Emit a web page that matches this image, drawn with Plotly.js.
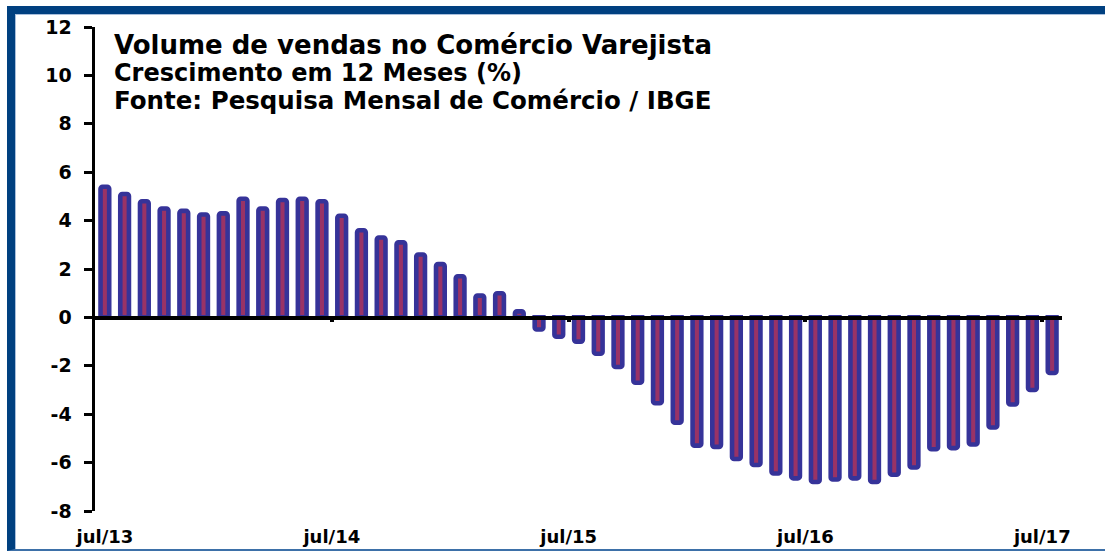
<!DOCTYPE html>
<html>
<head>
<meta charset="utf-8">
<script src="https://cdn.plot.ly/plotly-3.0.1.min.js"></script>
<style>
  html, body { margin: 0; padding: 0; background: #ffffff; }
  #wrap { position: relative; width: 1105px; height: 551px; overflow: hidden; }
  #chart { position: absolute; left: 0; top: 0; width: 1105px; height: 551px; }
  #frame { position: absolute; left: 7px; top: 6px; width: 1098px; height: 545px; box-sizing: border-box;
           border-left: 8px solid #004080; border-top: 8px solid #004080; border-bottom: 2px solid #3d70a8;
           pointer-events: none; }
  #frame-inner { position: absolute; left: 0; top: 0; right: 0; bottom: 0;
           border-left: 1px solid #a9bfdc; border-top: 1px solid #a9bfdc; }
</style>
</head>
<body>
<div id="wrap">
  <div id="chart"></div>
  <div id="frame"><div id="frame-inner"></div></div>
</div>
<script>
// Categories (months, jul/13 .. jul/17)
const months = [
  'jul/13','ago/13','set/13','out/13','nov/13','dez/13',
  'jan/14','fev/14','mar/14','abr/14','mai/14','jun/14',
  'jul/14','ago/14','set/14','out/14','nov/14','dez/14',
  'jan/15','fev/15','mar/15','abr/15','mai/15','jun/15',
  'jul/15','ago/15','set/15','out/15','nov/15','dez/15',
  'jan/16','fev/16','mar/16','abr/16','mai/16','jun/16',
  'jul/16','ago/16','set/16','out/16','nov/16','dez/16',
  'jan/17','fev/17','mar/17','abr/17','mai/17','jun/17',
  'jul/17'
];

// Growth in 12 months (%)
const growth12m = [
  5.4, 5.1, 4.8, 4.5, 4.4, 4.25,
  4.3, 4.9, 4.5, 4.85, 4.9, 4.8,
  4.2, 3.6, 3.3, 3.1, 2.6, 2.2,
  1.7, 0.9, 1.0, 0.25, -0.5, -0.8,
  -1.0, -1.5, -2.05, -2.7, -3.55, -4.35,
  -5.3, -5.35, -5.85, -6.1, -6.45, -6.65,
  -6.8, -6.7, -6.65, -6.8, -6.5, -6.2,
  -5.45, -5.4, -5.25, -4.55, -3.6, -3.0,
  -2.3
];

// Labelled months on the x axis
const tickLabels = ['jul/13', 'jul/14', 'jul/15', 'jul/16', 'jul/17'];

// Y axis tick values
const yTicks = [-8, -6, -4, -2, 0, 2, 4, 6, 8, 10, 12];

// Title lines
const titleLines = [
  'Volume de vendas no Comércio Varejista',
  'Crescimento em 12 Meses (%)',
  'Fonte: Pesquisa Mensal de Comércio / IBGE'
];

const FONT = 'DejaVu Sans, Liberation Sans, Arial, sans-serif';
const nCat = months.length;
const xRange = [-0.5, nCat - 0.5];
const yRange = [yTicks[0], yTicks[yTicks.length - 1]];
const zeroPos = (0 - yRange[0]) / (yRange[1] - yRange[0]);

// boundary just before each labelled month
const boundaryPos = tickLabels.map(function (t) { return months.indexOf(t) - 0.5; });
// label positions: at the boundaries, kept inside the axis at the ends
const labelPos = boundaryPos.map(function (b) { return Math.min(Math.max(b, 0), nCat - 1); });

const barTrace = {
  type: 'bar',
  x: months,
  y: growth12m,
  xaxis: 'x',
  yaxis: 'y',
  width: 0.44,
  marker: {
    color: '#993366',
    line: { color: '#363399', width: 4.6 },
    cornerradius: 2
  },
  hoverinfo: 'x+y',
  showlegend: false
};

// invisible helpers so the overlay axes are drawn
function helper(xs, axis) {
  return {
    type: 'scatter', mode: 'none',
    x: xs, y: xs.map(function () { return 0; }),
    xaxis: axis, yaxis: 'y',
    hoverinfo: 'skip', showlegend: false
  };
}

const annotations = titleLines.map(function (t, k) {
  return {
    text: t,
    xref: 'paper', yref: 'paper',
    x: 0.018, y: [0.962, 0.904, 0.848][k],
    xanchor: 'left', yanchor: 'middle',
    showarrow: false,
    font: { family: FONT, size: [26, 24, 24.5][k], color: '#000000', weight: 'bold' }
  };
});

const layout = {
  width: 1105,
  height: 551,
  margin: { l: 95, r: 43, t: 27, b: 40, pad: 0 },
  paper_bgcolor: '#ffffff',
  plot_bgcolor: '#ffffff',
  showlegend: false,
  xaxis: {
    type: 'category',
    categoryorder: 'array',
    categoryarray: months,
    range: xRange,
    anchor: 'free',
    position: zeroPos,
    showline: true, linecolor: '#000000', linewidth: 3.5,
    ticks: '', showticklabels: false,
    showgrid: false, zeroline: false,
    fixedrange: true
  },
  xaxis2: {
    type: 'linear',
    overlaying: 'x',
    anchor: 'y',
    side: 'bottom',
    range: xRange,
    tickmode: 'array', tickvals: labelPos, ticktext: tickLabels,
    ticks: '', showline: false, showgrid: false, zeroline: false,
    ticklabelstandoff: 13,
    tickfont: { family: FONT, size: 18, color: '#000000', weight: 'bold' },
    fixedrange: true
  },
  xaxis3: {
    type: 'linear',
    overlaying: 'x',
    anchor: 'free',
    position: zeroPos,
    side: 'bottom',
    range: xRange,
    tickmode: 'array', tickvals: boundaryPos.filter(function (b) { return b > xRange[0]; }),
    ticks: 'outside', ticklen: 4, tickwidth: 4, tickcolor: '#000000',
    showticklabels: false, showline: false, showgrid: false, zeroline: false,
    fixedrange: true
  },
  yaxis: {
    range: yRange,
    tickmode: 'array', tickvals: yTicks, ticktext: yTicks.map(String),
    showline: true, linecolor: '#000000', linewidth: 3.5,
    ticks: 'outside', ticklen: 8, tickwidth: 3, tickcolor: '#000000',
    ticklabelstandoff: 8,
    tickfont: { family: FONT, size: 19, color: '#000000', weight: 'bold' },
    showgrid: false, zeroline: false,
    fixedrange: true
  },
  annotations: annotations
};

Plotly.newPlot('chart', [barTrace, helper(labelPos, 'x2'), helper(boundaryPos, 'x3')], layout,
  { displayModeBar: false, staticPlot: true });
</script>
</body>
</html>
